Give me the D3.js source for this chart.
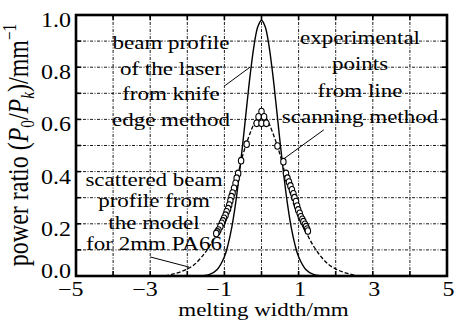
<!DOCTYPE html>
<html>
<head>
<meta charset="utf-8">
<script src="https://cdn.jsdelivr.net/npm/d3@7"></script>
<style>
  body { margin: 0; background: #fff; }
  text { font-family: "Liberation Serif", "Times New Roman", serif; fill: #000; }
</style>
</head>
<body>
<script>
// laser beam profile (knife edge)
var laserX = [-5, -2, -1.6, -1.4, -1.2, -1.0, -0.9, -0.8, -0.7, -0.6, -0.5, -0.4, -0.3, -0.2, -0.1, 0,
              0.1, 0.2, 0.3, 0.4, 0.5, 0.6, 0.7, 0.8, 0.9, 1.0, 1.2, 1.4, 1.6, 2, 5];
var laserY = [0, 0, 0.001, 0.006, 0.024, 0.074, 0.121, 0.187, 0.276, 0.387, 0.514, 0.648, 0.777, 0.884, 0.955, 0.98,
              0.955, 0.884, 0.777, 0.648, 0.514, 0.387, 0.276, 0.187, 0.121, 0.074, 0.024, 0.006, 0.001, 0, 0];

// scattered beam profile from the model
var modelX = [-2.6, -2.4, -2.2, -2.0, -1.8, -1.6, -1.4, -1.2, -1.0, -0.8, -0.6, -0.5, -0.4, -0.3, -0.2, -0.1, 0,
              0.1, 0.2, 0.3, 0.4, 0.5, 0.6, 0.8, 1.0, 1.2, 1.4, 1.6, 1.8, 2.0, 2.2, 2.4, 2.6];
var modelY = [0, 0.007, 0.015, 0.027, 0.045, 0.075, 0.115, 0.168, 0.225, 0.305, 0.41, 0.465, 0.51, 0.55, 0.585, 0.61, 0.62,
              0.61, 0.585, 0.55, 0.51, 0.465, 0.41, 0.305, 0.225, 0.168, 0.115, 0.075, 0.045, 0.027, 0.015, 0.007, 0];

// experimental points from line scanning
var expX = [0, -0.08, 0.07, -0.13, 0, 0.13,
            -0.40, -0.55, -0.63, -0.67, -0.70, -0.74, -0.78, -0.81, -0.84, -0.87, -0.90, -0.94, -0.97, -1.01, -1.04, -1.07, -1.11, -1.16, -1.19, -1.22,
            0.43, 0.59, 0.66, 0.70, 0.74, 0.78, 0.82, 0.86, 0.89, 0.93, 0.96, 0.99, 1.03, 1.06, 1.10, 1.13, 1.17, 1.20, 1.23, 1.25];
var expY = [0.63, 0.61, 0.61, 0.585, 0.585, 0.585,
            0.505, 0.442, 0.393, 0.375, 0.355, 0.336, 0.318, 0.304, 0.288, 0.272, 0.258, 0.246, 0.233, 0.221, 0.211, 0.202, 0.19, 0.176, 0.169, 0.163,
            0.498, 0.438, 0.393, 0.375, 0.36, 0.345, 0.33, 0.315, 0.30, 0.285, 0.268, 0.253, 0.24, 0.227, 0.217, 0.208, 0.198, 0.189, 0.18, 0.172];

var xTickLabels = [-5, -3, -1, 1, 3, 5];
var yTickLabels = [0, 0.2, 0.4, 0.6, 0.8, 1.0];

var noteLaser = ["beam profile", "of the laser", "from knife", "edge method"];
var noteExp = ["experimental", "points", "from line", "scanning method"];
var noteModel = ["scattered beam", "profile from", "the model", "for 2mm PA66"];

var W = 454, H = 322;
var pL = 76, pR = 447, pT = 15, pB = 276;

var svg = d3.select( "body" ).append( "svg" )
  .attr( "width", W ).attr( "height", H );

var x = d3.scaleLinear().domain( [-5, 5] ).range( [pL, pR] );
var y = d3.scaleLinear().domain( [0, 1] ).range( [pB, pT] );

// grid
var grid = svg.append( "g" )
  .attr( "stroke", "#000" ).attr( "stroke-width", 0.9 )
  .attr( "stroke-dasharray", "3,1.5,1,1.5" );
grid.selectAll( "line.gx" ).data( d3.range( -4, 5 ) ).enter().append( "line" )
  .attr( "x1", d => x( d ) ).attr( "x2", d => x( d ) )
  .attr( "y1", pT ).attr( "y2", pB );
grid.selectAll( "line.gy" ).data( d3.range( 1, 10 ).map( d => d / 10 ) ).enter().append( "line" )
  .attr( "y1", d => y( d ) ).attr( "y2", d => y( d ) )
  .attr( "x1", pL ).attr( "x2", pR );

// inward ticks on all four sides
var tickLen = 5;
var xt = d3.range( -5, 6 );
var yt = d3.range( 0, 11 ).map( d => d / 10 );
var ticks = svg.append( "g" ).attr( "stroke", "#000" ).attr( "stroke-width", 1.6 );
xt.forEach( function( d ){
  ticks.append( "line" ).attr( "x1", x( d ) ).attr( "x2", x( d ) ).attr( "y1", pB ).attr( "y2", pB - tickLen );
  ticks.append( "line" ).attr( "x1", x( d ) ).attr( "x2", x( d ) ).attr( "y1", pT ).attr( "y2", pT + tickLen );
} );
yt.forEach( function( d ){
  ticks.append( "line" ).attr( "y1", y( d ) ).attr( "y2", y( d ) ).attr( "x1", pL ).attr( "x2", pL + tickLen );
  ticks.append( "line" ).attr( "y1", y( d ) ).attr( "y2", y( d ) ).attr( "x1", pR ).attr( "x2", pR - tickLen );
} );

// curves
var laser = laserX.map( ( d, i ) => [d, laserY[i]] );
var model = modelX.map( ( d, i ) => [d, modelY[i]] );
var line = d3.line().x( d => x( d[0] ) ).y( d => y( d[1] ) ).curve( d3.curveCatmullRom );

svg.append( "path" ).datum( laser )
  .attr( "d", line ).attr( "fill", "none" )
  .attr( "stroke", "#000" ).attr( "stroke-width", 1.4 );

svg.append( "path" ).datum( model )
  .attr( "d", line ).attr( "fill", "none" )
  .attr( "stroke", "#000" ).attr( "stroke-width", 1.3 )
  .attr( "stroke-dasharray", "4,2" );

svg.append( "g" ).selectAll( "ellipse" ).data( expX ).enter().append( "ellipse" )
  .attr( "cx", d => x( d ) ).attr( "cy", ( d, i ) => y( expY[i] ) )
  .attr( "rx", 2.7 ).attr( "ry", 3.3 )
  .attr( "fill", "#fff" ).attr( "stroke", "#000" ).attr( "stroke-width", 1.1 );

// leader lines
var leaders = [
  [[-0.98, 0.73], [-0.31, 0.80]],
  [[0.61, 0.45], [1.68, 0.56]],
  [[-3.0, 0.073], [-1.95, 0.034]]
];
svg.append( "g" ).selectAll( "line" ).data( leaders ).enter().append( "line" )
  .attr( "x1", d => x( d[0][0] ) ).attr( "y1", d => y( d[0][1] ) )
  .attr( "x2", d => x( d[1][0] ) ).attr( "y2", d => y( d[1][1] ) )
  .attr( "stroke", "#000" ).attr( "stroke-width", 1 );

// border
svg.append( "rect" )
  .attr( "x", pL ).attr( "y", pT )
  .attr( "width", pR - pL ).attr( "height", pB - pT )
  .attr( "fill", "none" ).attr( "stroke", "#000" ).attr( "stroke-width", 2.6 );

// text is squeezed vertically like the source picture
function label( px, py, str, size, anchor ){
  return svg.append( "g" )
    .attr( "transform", "translate(" + px + "," + py + ") scale(1,0.85)" )
    .append( "text" )
    .attr( "text-anchor", anchor || "middle" )
    .style( "font-size", size + "px" )
    .text( str );
}

xTickLabels.forEach( function( d ){
  label( x( d ) + 7.5, 296, d < 0 ? "\u2212" + Math.abs( d ) : String( d ), 24, "end" );
} );
yTickLabels.forEach( function( d ){
  label( 71, y( d ) + ( d === 0 ? 2 : 12 ), d.toFixed( 1 ), 24, "end" );
} );

label( ( pL + pR ) / 2 + 2, 316, "melting width/mm", 23 );

noteLaser.forEach( ( s, i ) => label( 171, 49 + i * 25.6, s, 23 ) );
noteExp.forEach( ( s, i ) => label( 360, 43.5 + i * 26.6, s, 23 ) );
noteModel.forEach( ( s, i ) => label( 154, 186 + i * 21.4, s, 23 ) );

// y axis title
var ttl = svg.append( "g" )
  .attr( "transform", "translate(28,145) scale(1,0.8) rotate(-90)" )
  .append( "text" )
  .attr( "text-anchor", "middle" )
  .style( "font-size", "30px" );
ttl.append( "tspan" ).text( "power ratio (" );
ttl.append( "tspan" ).style( "font-style", "italic" ).text( "P" );
ttl.append( "tspan" ).attr( "dy", 6 ).style( "font-size", "19px" ).text( "0" );
ttl.append( "tspan" ).attr( "dy", -6 ).text( "/" );
ttl.append( "tspan" ).style( "font-style", "italic" ).text( "P" );
ttl.append( "tspan" ).attr( "dy", 6 ).style( "font-size", "19px" ).style( "font-style", "italic" ).text( "k" );
ttl.append( "tspan" ).attr( "dy", -6 ).text( ")/mm" );
ttl.append( "tspan" ).attr( "dy", -12 ).style( "font-size", "19px" ).text( "\u22121" );
</script>
</body>
</html>
